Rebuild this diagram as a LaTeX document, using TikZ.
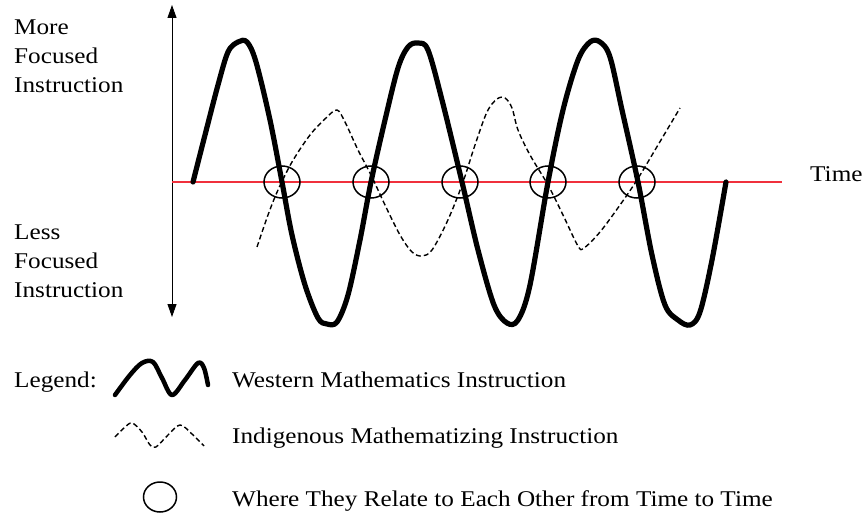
\documentclass[tikz,border=0pt]{standalone}
\usepackage{fontspec}
\setmainfont{Liberation Serif}
\usepackage{tikz}
\usetikzlibrary{positioning,arrows.meta,shapes.geometric}
\definecolor{TimeRed}{HTML}{F0303C}

\begin{document}
\begin{tikzpicture}[x=1pt,y=1pt,>={Triangle[length=13pt,width=9pt]}]
  \tikzstyle{lbl}=[inner sep=0pt,anchor=base west,align=left,
    font=\fontsize{22.5}{29}\selectfont,xscale=1.12,transform shape]
  \tikzstyle{western}=[line width=5.2pt,line cap=round,line join=round]
  \tikzstyle{indig}=[line width=1.4pt,dash pattern=on 5pt off 3pt]
  \tikzstyle{meet}=[ellipse,draw,line width=1.5pt,minimum width=36pt,
    minimum height=32pt,inner sep=0pt]
  \useasboundingbox[fill=white] (0,0) rectangle (865,-516);
  % axes
  \coordinate (top) at (172,-5);
  \coordinate (bot) at (172,-317);
  \coordinate (t0) at (172,-182);
  \coordinate (t1) at (782,-182);
  \draw[<->,line width=0.9pt] (bot)--(top);
  \draw[TimeRed,line width=1.4pt] (t0)--(t1);
  \node[lbl] (more) at (14,-93) {More\\Focused\\Instruction};
  \node[lbl] (less) at (14,-297) {Less\\Focused\\Instruction};
  \node[lbl] (time) at (810,-182) {Time};
  % western curve
  \draw[western] plot[smooth,tension=0.55] coordinates {
    (193,-182) (205,-135) (218,-85) (228,-52) (238,-42) (247,-42)
    (256,-62) (270,-120) (282,-182) (292,-235) (305,-285) (318,-318)
    (327,-324) (337,-322) (348,-295) (360,-240) (371,-182) (385,-120)
    (398,-68) (408,-47) (418,-43) (428,-50) (442,-100) (462,-182)
    (478,-250) (494,-305) (507,-323) (518,-320) (530,-285) (548,-182)
    (563,-110) (578,-60) (590,-42) (600,-42) (610,-57) (622,-110)
    (638,-182) (652,-255) (665,-305) (678,-320) (690,-325) (700,-312)
    (712,-260) (726,-182)};
  % indigenous curve
  \draw[indig] plot[smooth,tension=0.55] coordinates {
    (257,-247) (268,-215) (278,-190) (292,-162) (310,-135) (326,-118)
    (337,-110) (345,-122) (358,-150) (371,-175) (385,-205) (400,-235)
    (412,-252) (422,-256) (432,-250) (447,-222) (462,-185) (475,-145)
    (487,-112) (497,-99) (505,-98) (512,-108) (518,-130) (530,-155)
    (548,-185) (563,-215) (578,-246) (584,-248) (600,-232) (620,-205)
    (637,-180) (658,-145) (680,-108)};
  % where they relate
  \node[meet] (m1) at (282,-182) {};
  \node[meet] (m2) at (371,-182) {};
  \node[meet] (m3) at (460,-182) {};
  \node[meet] (m4) at (548,-182) {};
  \node[meet] (m5) at (637,-182) {};
  % legend
  \node[lbl] (legend) at (14,-387) {Legend:};
  \draw[western,line width=4.5pt] plot[smooth,tension=0.55] coordinates {
    (115,-395) (130,-375) (142,-363) (153,-362) (162,-378) (172,-395)
    (185,-380) (198,-363) (204,-368) (208,-385)};
  \node[lbl] (wmi) at (232,-387) {Western Mathematics Instruction};
  \draw[indig] plot[smooth,tension=0.55] coordinates {
    (115,-437) (124,-428) (132,-423) (142,-432) (150,-445) (156,-447)
    (168,-435) (180,-425) (192,-434) (204,-446)};
  \node[lbl] (imi) at (232,-443) {Indigenous Mathematizing Instruction};
  \node[meet,minimum width=33pt,minimum height=30pt] (mkey) at (160,-497) {};
  \node[lbl] (wtr) at (232,-506) {Where They Relate to Each Other from Time to Time};
\end{tikzpicture}
\end{document}
